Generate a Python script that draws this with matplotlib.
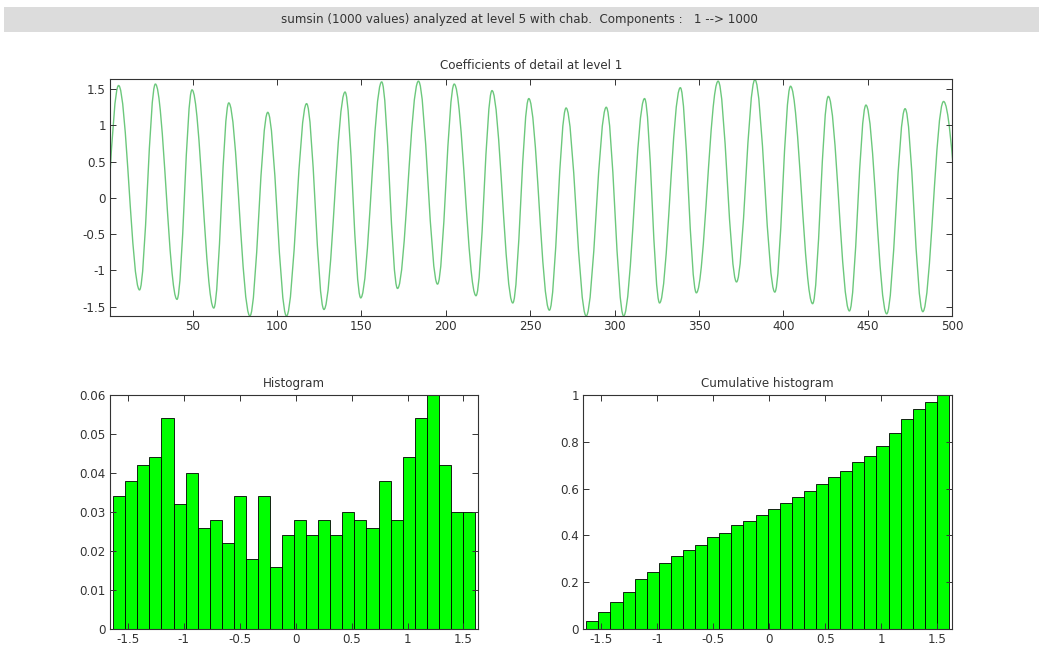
import numpy as np
import matplotlib
matplotlib.use("Agg")
import matplotlib.pyplot as plt
from matplotlib.path import Path
from matplotlib.patches import PathPatch, Rectangle

plt.rcParams['font.family'] = ['DejaVu Sans']
plt.rcParams['axes.unicode_minus'] = False

# ---------------- data ----------------
main_title = "sumsin (1000 values) analyzed at level 5 with chab.  Components :   1 --> 1000"
top_title = "Coefficients of detail at level 1"
hist_title = "Histogram"
cum_title = "Cumulative histogram"

# alternating extrema (peaks / troughs) of the level-1 detail coefficients
ext_x = [-5, 6.1, 18.5, 27.9, 40.7, 49.6, 62.5, 71.4, 83.9, 94.5, 105.6, 117.5,
         127.8, 140.3, 149.6, 162.0, 171.4, 183.8, 195.1, 205.0, 217.9, 227.4,
         239.7, 249.2, 261.4, 271.3, 283.2, 295.1, 305.4, 317.8, 326.7, 339.0,
         348.5, 361.4, 372.3, 383.2, 395.0, 404.3, 417.4, 426.7, 439.2, 449.0,
         461.3, 472.2, 482.7, 495.0, 510]
ext_y = [-1.25, 1.55, -1.27, 1.57, -1.40, 1.49, -1.52, 1.31, -1.63, 1.18, -1.63, 1.30,
         -1.54, 1.46, -1.38, 1.60, -1.25, 1.61, -1.19, 1.57, -1.35, 1.48,
         -1.45, 1.37, -1.55, 1.24, -1.63, 1.25, -1.63, 1.37, -1.45, 1.52,
         -1.31, 1.61, -1.16, 1.63, -1.30, 1.54, -1.46, 1.40, -1.56, 1.28,
         -1.60, 1.23, -1.57, 1.33, -1.50]

# histogram (relative frequencies, 30 bins)
hist_freq = [0.034, 0.038, 0.042, 0.044, 0.054, 0.032, 0.040, 0.026, 0.028, 0.022,
             0.034, 0.018, 0.034, 0.016, 0.024, 0.028, 0.024, 0.028, 0.024, 0.030,
             0.028, 0.026, 0.038, 0.028, 0.044, 0.054, 0.060, 0.042, 0.030, 0.030]
coef_min = -1.631
coef_max = 1.603

top_xticks = [50, 100, 150, 200, 250, 300, 350, 400, 450, 500]
top_yticks = [-1.5, -1, -0.5, 0, 0.5, 1, 1.5]
top_yticklabels = ["-1.5", "-1", "-0.5", "0", "0.5", "1", "1.5"]
hist_xticks = [-1.5, -1, -0.5, 0, 0.5, 1, 1.5]
hist_xticklabels = ["-1.5", "-1", "-0.5", "0", "0.5", "1", "1.5"]
hist_yticks = [0, 0.01, 0.02, 0.03, 0.04, 0.05, 0.06]
hist_yticklabels = ["0", "0.01", "0.02", "0.03", "0.04", "0.05", "0.06"]
cum_yticks = [0, 0.2, 0.4, 0.6, 0.8, 1]
cum_yticklabels = ["0", "0.2", "0.4", "0.6", "0.8", "1"]

# ---------------- figure ----------------
W, H = 1039, 648
fig = plt.figure(figsize=(W / 100, H / 100), dpi=100)
fig.patch.set_facecolor('white')

fs = 8.6
TXT = '#333333'
LINE_COLOR = '#6cc87c'
BAR_COLOR = '#00ff00'


def style_axes(ax):
    ax.tick_params(direction='in', length=4, width=0.7, labelsize=fs,
                   top=True, right=True, colors='#333333', labelcolor=TXT, pad=3)
    for s in ax.spines.values():
        s.set_linewidth(0.8)
        s.set_color('#333333')


# title bar
fig.patches.append(Rectangle((4 / W, 1 - 32 / H), 1 - 4 / W, 25 / H,
                             transform=fig.transFigure, facecolor='#dcdcdc',
                             edgecolor='none', zorder=0))
fig.text(0.5, 1 - 19.5 / H, main_title, ha='center', va='center', fontsize=fs,
         color=TXT)

# ---- top: detail coefficients ----
ax1 = fig.add_axes([110 / W, 1 - 316 / H, (952 - 110) / W, (316 - 79) / H])
k = 0.363
verts = [(ext_x[0], ext_y[0])]
codes = [Path.MOVETO]
for i in range(len(ext_x) - 1):
    x0, y0 = ext_x[i], ext_y[i]
    x1, y1 = ext_x[i + 1], ext_y[i + 1]
    d = x1 - x0
    verts += [(x0 + k * d, y0), (x1 - k * d, y1), (x1, y1)]
    codes += [Path.CURVE4] * 3
ax1.add_patch(PathPatch(Path(verts, codes), facecolor='none',
                        edgecolor=LINE_COLOR, lw=1.0))
ax1.set_xlim(1, 500)
ax1.set_ylim(-1.63, 1.64)
ax1.set_xticks(top_xticks)
ax1.set_xticklabels([str(v) for v in top_xticks])
ax1.set_yticks(top_yticks)
ax1.set_yticklabels(top_yticklabels)
ax1.set_title(top_title, fontsize=fs, pad=7, color=TXT)
style_axes(ax1)

# ---- histogram ----
nb = len(hist_freq)
width = (coef_max - coef_min) / nb
centers = coef_min + width * (np.arange(nb) + 0.5)

ax2 = fig.add_axes([110 / W, 1 - 629 / H, (478 - 110) / W, (629 - 395) / H])
ax2.bar(centers, hist_freq, width=width, color=BAR_COLOR, edgecolor='black',
        linewidth=0.6)
ax2.set_xlim(-1.66, 1.63)
ax2.set_ylim(0, 0.06)
ax2.set_xticks(hist_xticks)
ax2.set_xticklabels(hist_xticklabels)
ax2.set_yticks(hist_yticks)
ax2.set_yticklabels(hist_yticklabels)
ax2.set_title(hist_title, fontsize=fs, pad=6, color=TXT)
style_axes(ax2)

# ---- cumulative histogram ----
cum = np.cumsum(hist_freq)
ax3 = fig.add_axes([583 / W, 1 - 629 / H, (952 - 583) / W, (629 - 395) / H])
ax3.bar(centers, cum, width=width, color=BAR_COLOR, edgecolor='black',
        linewidth=0.6)
ax3.set_xlim(-1.66, 1.63)
ax3.set_ylim(0, 1)
ax3.set_xticks(hist_xticks)
ax3.set_xticklabels(hist_xticklabels)
ax3.set_yticks(cum_yticks)
ax3.set_yticklabels(cum_yticklabels)
ax3.set_title(cum_title, fontsize=fs, pad=6, color=TXT)
style_axes(ax3)

fig.savefig('out.png', dpi=100)
